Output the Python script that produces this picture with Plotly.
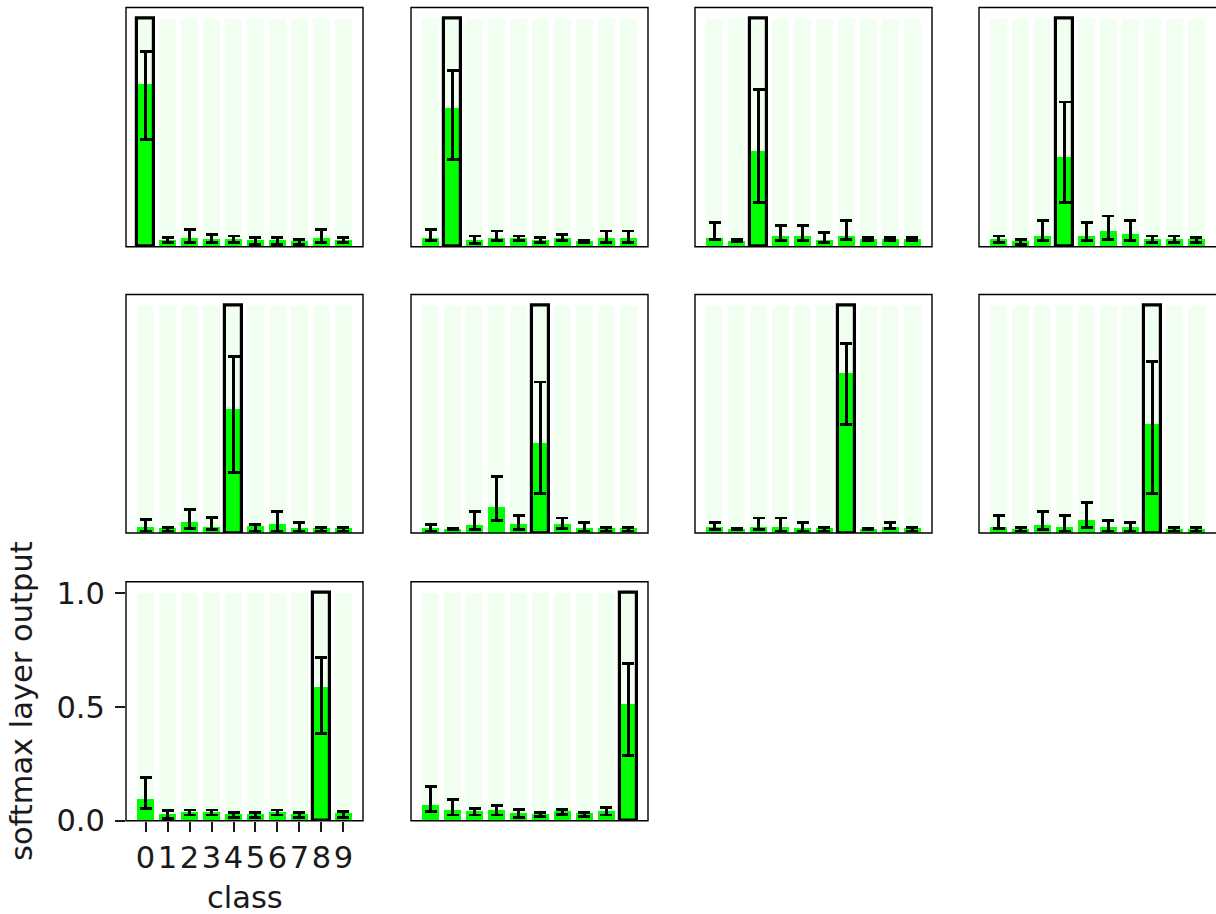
import plotly.graph_objects as go

# ---- data -------------------------------------------------------------
classes = list(range(10))
class_labels = [str(c) for c in classes]
true_class = [0, 1, 2, 3, 4, 5, 6, 7, 8, 9]
full_scale = 1.0

# mean softmax output per panel (one row per true digit)
mean_output = [
    [0.716, 0.033, 0.040, 0.035, 0.035, 0.030, 0.030, 0.026, 0.040, 0.032],
    [0.041, 0.610, 0.032, 0.041, 0.041, 0.032, 0.041, 0.026, 0.041, 0.041],
    [0.041, 0.026, 0.424, 0.050, 0.050, 0.032, 0.050, 0.038, 0.038, 0.038],
    [0.035, 0.026, 0.050, 0.395, 0.050, 0.070, 0.058, 0.038, 0.038, 0.035],
    [0.029, 0.023, 0.051, 0.029, 0.550, 0.034, 0.041, 0.023, 0.023, 0.023],
    [0.023, 0.019, 0.038, 0.117, 0.041, 0.400, 0.041, 0.023, 0.023, 0.023],
    [0.029, 0.019, 0.029, 0.029, 0.023, 0.023, 0.705, 0.019, 0.029, 0.023],
    [0.029, 0.019, 0.038, 0.029, 0.058, 0.029, 0.029, 0.484, 0.019, 0.019],
    [0.096, 0.032, 0.039, 0.039, 0.032, 0.032, 0.039, 0.032, 0.590, 0.035],
    [0.069, 0.050, 0.044, 0.050, 0.035, 0.032, 0.044, 0.035, 0.044, 0.515],
]
# upper end of each error bar
upper_output = [
    [0.855, 0.040, 0.076, 0.052, 0.047, 0.040, 0.040, 0.032, 0.076, 0.040],
    [0.076, 0.772, 0.047, 0.069, 0.047, 0.039, 0.054, 0.029, 0.069, 0.069],
    [0.108, 0.032, 0.690, 0.092, 0.092, 0.061, 0.115, 0.039, 0.039, 0.039],
    [0.047, 0.032, 0.115, 0.635, 0.105, 0.135, 0.115, 0.047, 0.047, 0.039],
    [0.058, 0.026, 0.102, 0.067, 0.778, 0.037, 0.095, 0.047, 0.026, 0.026],
    [0.037, 0.020, 0.095, 0.250, 0.076, 0.665, 0.066, 0.047, 0.026, 0.026],
    [0.047, 0.020, 0.066, 0.066, 0.047, 0.026, 0.836, 0.020, 0.047, 0.026],
    [0.076, 0.026, 0.095, 0.076, 0.134, 0.056, 0.047, 0.757, 0.026, 0.026],
    [0.190, 0.044, 0.047, 0.047, 0.035, 0.035, 0.047, 0.035, 0.716, 0.040],
    [0.152, 0.095, 0.054, 0.066, 0.050, 0.035, 0.050, 0.038, 0.057, 0.690],
]
# lower end of each error bar
lower_output = [
    [0.471, 0.018, 0.018, 0.018, 0.018, 0.010, 0.010, 0.010, 0.018, 0.018],
    [0.026, 0.383, 0.015, 0.026, 0.026, 0.018, 0.026, 0.020, 0.018, 0.018],
    [0.032, 0.023, 0.193, 0.026, 0.026, 0.018, 0.032, 0.026, 0.026, 0.026],
    [0.018, 0.010, 0.026, 0.193, 0.026, 0.032, 0.026, 0.018, 0.018, 0.018],
    [0.009, 0.009, 0.019, 0.015, 0.268, 0.009, 0.009, 0.009, 0.009, 0.009],
    [0.009, 0.015, 0.015, 0.056, 0.015, 0.173, 0.019, 0.009, 0.009, 0.009],
    [0.015, 0.015, 0.015, 0.009, 0.009, 0.009, 0.477, 0.015, 0.019, 0.009],
    [0.019, 0.009, 0.015, 0.009, 0.026, 0.009, 0.009, 0.173, 0.009, 0.009],
    [0.054, 0.010, 0.025, 0.025, 0.015, 0.015, 0.025, 0.015, 0.383, 0.015],
    [0.039, 0.025, 0.025, 0.025, 0.015, 0.020, 0.029, 0.020, 0.025, 0.288],
]

y_ticks = [0.0, 0.5, 1.0]
y_tick_labels = ["0.0", "0.5", "1.0"]

# ---- layout geometry (pixels) ------------------------------------------
W, H = 1216, 914
col_px = [(126, 363), (411, 648), (695, 932), (979, 1216)]
row_px = [(7.5, 246.7), (294.5, 533.0), (581.7, 820.7)]
FONT = "DejaVu Sans"
FSIZE = 30.5
TXT = "#1a1a1a"
BAR_W = 0.8

fig = go.Figure()
layout_axes = {}
shapes = []

for k in range(len(true_class)):
    r, c = divmod(k, 4)
    sfx = "" if k == 0 else str(k + 1)
    xa, ya = "x" + sfx, "y" + sfx

    plus = [u - m for u, m in zip(upper_output[k], mean_output[k])]
    minus = [m - l for m, l in zip(mean_output[k], lower_output[k])]

    # pale full-scale reference bars
    fig.add_trace(go.Bar(
        x=classes, y=[full_scale] * len(classes), width=BAR_W,
        marker=dict(color="#f0fff0", line=dict(width=0)),
        xaxis=xa, yaxis=ya, showlegend=False, hoverinfo="skip"))
    # mean softmax output with error bars
    fig.add_trace(go.Bar(
        x=classes, y=mean_output[k], width=BAR_W,
        marker=dict(color="#00ff00", line=dict(width=0)),
        error_y=dict(type="data", symmetric=False, array=plus, arrayminus=minus,
                     color="black", thickness=2.9, width=6),
        xaxis=xa, yaxis=ya, showlegend=False))
    # outline marking the true class
    fig.add_trace(go.Bar(
        x=[true_class[k]], y=[full_scale], width=BAR_W,
        marker=dict(color="rgba(0,0,0,0)", line=dict(color="black", width=3.2)),
        xaxis=xa, yaxis=ya, showlegend=False, hoverinfo="skip"))

    x0, x1 = col_px[c]
    y0, y1 = row_px[r]
    show = (k == 8)
    xkey = "xaxis" + sfx
    ykey = "yaxis" + sfx
    layout_axes[xkey] = dict(
        domain=[x0 / W, x1 / W], range=[-0.89, 9.89], anchor=ya,
        automargin=False,
        showgrid=False, zeroline=False, showline=False,
        tickmode="array", tickvals=classes if show else [],
        ticktext=class_labels if show else [],
        ticks="outside" if show else "", ticklen=10, tickwidth=1.6,
        tickcolor=TXT, showticklabels=show,
        tickfont=dict(family=FONT, size=FSIZE, color=TXT),
        fixedrange=True)
    layout_axes[ykey] = dict(
        domain=[1 - y1 / H, 1 - y0 / H], range=[0, 1.05], anchor=xa,
        automargin=False,
        showgrid=False, zeroline=False, showline=False,
        tickmode="array", tickvals=y_ticks if show else [],
        ticktext=y_tick_labels if show else [],
        ticks="outside" if show else "", ticklen=10, tickwidth=1.6,
        tickcolor=TXT, showticklabels=show, ticklabelstandoff=4,
        tickfont=dict(family=FONT, size=FSIZE, color=TXT),
        fixedrange=True)

    # axes frame
    right = 1.02 if c == 3 else 1.0
    shapes.append(dict(type="rect", xref=xa + " domain", yref=ya + " domain",
                       x0=0, x1=right, y0=0, y1=1,
                       line=dict(color="black", width=1.4),
                       fillcolor="rgba(0,0,0,0)", layer="above"))

fig.update_layout(
    width=W, height=H, autosize=False,
    margin=dict(l=0, r=0, t=0, b=0, pad=0, autoexpand=False),
    paper_bgcolor="white", plot_bgcolor="white",
    barmode="overlay", bargap=0,
    shapes=shapes,
    annotations=[
        dict(text="class", xref="paper", yref="paper",
             x=(col_px[0][0] + col_px[0][1]) / 2 / W, y=1 - 897 / H,
             xanchor="center", yanchor="middle", showarrow=False,
             font=dict(family=FONT, size=FSIZE, color=TXT)),
        dict(text="softmax layer output", xref="paper", yref="paper",
             x=21 / W, y=1 - 701 / H, textangle=-90,
             xanchor="center", yanchor="middle", showarrow=False,
             font=dict(family=FONT, size=FSIZE, color=TXT)),
    ],
    **layout_axes,
)

fig.write_html("out.html", config={"displayModeBar": False})
